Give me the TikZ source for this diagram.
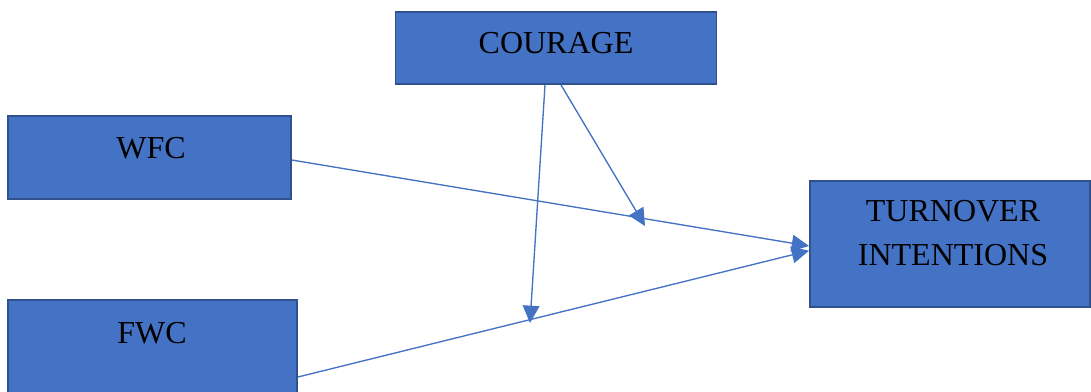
\documentclass[tikz,border=0pt]{standalone}
\usepackage{fontspec}
\setmainfont{Liberation Serif}
\usetikzlibrary{arrows.meta,calc}
\definecolor{boxblue}{HTML}{4472C4}
\definecolor{boxedge}{HTML}{2F528F}

\begin{document}
\begin{tikzpicture}[
  x=0.75pt, y=-0.75pt,
  box/.style={draw=boxedge, line width=1.4pt, fill=boxblue, inner sep=0pt},
  lbl/.style={align=center, font=\fontsize{24}{32.5}\selectfont, text=black},
  arr/.style={-{Triangle[length=13pt,width=12.5pt]}, draw=boxblue, fill=boxblue, line width=1pt}
]
\path[use as bounding box, fill=white] (0,0) rectangle (1091,392);

% boxes
\node[box, minimum width=240.75pt, minimum height=54pt]   (courage) at (556,48)    {};
\node[box, minimum width=212.25pt, minimum height=62.25pt] (wfc)    at (149.5,157.5) {};
\node[box, minimum width=216.75pt, minimum height=115.5pt] (fwc)    at (152.5,377) {};
\node[box, minimum width=210pt, minimum height=94.5pt]    (turn)   at (950,244)   {};

% labels
\node[lbl] (courage-txt) at (556,43)  {COURAGE};
\node[lbl] (wfc-txt)     at (151,148) {WFC};
\node[lbl] (fwc-txt)     at (152,333.5) {FWC};
\node[lbl] (turn-txt)    at (953,233) {TURNOVER\\INTENTIONS};

% moderator targets
\coordinate (wfcmod) at (645,226);
\coordinate (fwcmod) at (530,323);

\draw[arr] ([yshift=-1.9pt]wfc.east) -- ([yshift=-1.5pt]turn.west);
\draw[arr] (fwc.east) -- ([yshift=-5pt]turn.west);
\draw[arr] ($(courage.south)+(-11,0)$) -- (fwcmod);
\draw[arr] ($(courage.south)+(5,0)$) -- (wfcmod);
\end{tikzpicture}
\end{document}
